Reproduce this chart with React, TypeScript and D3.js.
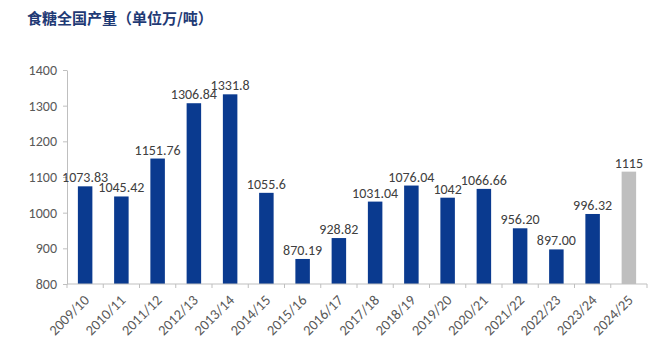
import React, { useEffect, useRef } from 'react';
import * as d3 from 'd3';

const seasons = ['2009/10', '2010/11', '2011/12', '2012/13', '2013/14', '2014/15', '2015/16', '2016/17',
    '2017/18', '2018/19', '2019/20', '2020/21', '2021/22', '2022/23', '2023/24', '2024/25'];
const output = [1073.83, 1045.42, 1151.76, 1306.84, 1331.8, 1055.6, 870.19, 928.82,
    1031.04, 1076.04, 1042, 1066.66, 956.20, 897.00, 996.32, 1115];
const valueLabels = ['1073.83', '1045.42', '1151.76', '1306.84', '1331.8', '1055.6', '870.19', '928.82',
    '1031.04', '1076.04', '1042', '1066.66', '956.20', '897.00', '996.32', '1115'];
const yTicks = [800, 900, 1000, 1100, 1200, 1300, 1400];
const forecast = ['2024/25'];

const W = 660;
const H = 352;

const App: React.FC = () => {
    const svgRef = useRef<SVGSVGElement | null>(null);

    useEffect(() => {
        if (!svgRef.current) return;
        const svg = d3.select(svgRef.current);
        svg.selectAll('*').remove();

        const margin = { top: 70, right: 13, bottom: 68, left: 67 };
        const innerW = W - margin.left - margin.right;
        const innerH = H - margin.top - margin.bottom;

        const x = d3.scaleBand().domain(seasons).range([0, innerW]).paddingInner(0.6).paddingOuter(0.3);
        const y = d3.scaleLinear().domain([800, 1400]).range([innerH, 0]);

        svg.append('text')
            .attr('x', 27)
            .attr('y', 24)
            .attr('font-family', '"Noto Sans CJK SC", sans-serif')
            .attr('font-weight', 'bold')
            .attr('font-size', 15)
            .attr('fill', '#1F3A75')
            .text('食糖全国产量（单位万/吨）');

        const g = svg.append('g').attr('transform', `translate(${margin.left},${margin.top})`);

        // y axis
        const yAxis = g.append('g').call(d3.axisLeft(y).tickValues(yTicks).tickFormat(d3.format('d')).tickSize(4).tickSizeOuter(0));
        yAxis.select('.domain').attr('stroke', '#BFBFBF');
        yAxis.selectAll('.tick line').attr('stroke', '#BFBFBF');
        yAxis.selectAll('.tick text')
            .attr('x', -10)
            .attr('fill', '#595959')
            .attr('font-size', 14)
            .attr('font-family', 'Calibri, Carlito, "Liberation Sans", sans-serif');

        // bars
        g.selectAll('rect.bar')
            .data(seasons)
            .enter()
            .append('rect')
            .attr('class', 'bar')
            .attr('x', d => x(d)!)
            .attr('width', x.bandwidth())
            .attr('y', (d, i) => y(output[i]))
            .attr('height', (d, i) => innerH - y(output[i]))
            .attr('fill', d => forecast.includes(d) ? '#BFBFBF' : '#0A3A8F');

        // value labels
        g.selectAll('text.val')
            .data(seasons)
            .enter()
            .append('text')
            .attr('class', 'val')
            .attr('x', d => x(d)! + x.bandwidth() / 2)
            .attr('y', (d, i) => y(output[i]) - 4)
            .attr('text-anchor', 'middle')
            .attr('fill', '#404040')
            .attr('font-size', 14)
            .attr('font-family', 'Calibri, Carlito, "Liberation Sans", sans-serif')
            .text((d, i) => valueLabels[i]);

        // x axis with boundary ticks
        const xAxisG = g.append('g').attr('transform', `translate(0,${innerH})`);
        xAxisG.append('line')
            .attr('x1', 0).attr('x2', innerW)
            .attr('y1', 0).attr('y2', 0)
            .attr('stroke', '#BFBFBF');
        const bounds = d3.range(seasons.length + 1).map(i => i * innerW / seasons.length);
        xAxisG.selectAll('line.tk')
            .data(bounds)
            .enter()
            .append('line')
            .attr('class', 'tk')
            .attr('x1', d => d).attr('x2', d => d)
            .attr('y1', 0).attr('y2', 4)
            .attr('stroke', '#BFBFBF');

        xAxisG.selectAll('text.cat')
            .data(seasons)
            .enter()
            .append('text')
            .attr('class', 'cat')
            .attr('transform', d => `translate(${x(d)! + x.bandwidth() / 2 + 5},${17}) rotate(-45)`)
            .attr('text-anchor', 'end')
            .attr('fill', '#595959')
            .attr('font-size', 14.5)
            .attr('font-family', 'Calibri, Carlito, "Liberation Sans", sans-serif')
            .text(d => d);
    }, []);

    return (
        <svg ref={svgRef} width={W} height={H}
            style={{ position: 'absolute', left: 0, top: 0, background: '#fff' }} />
    );
};

export default App;
